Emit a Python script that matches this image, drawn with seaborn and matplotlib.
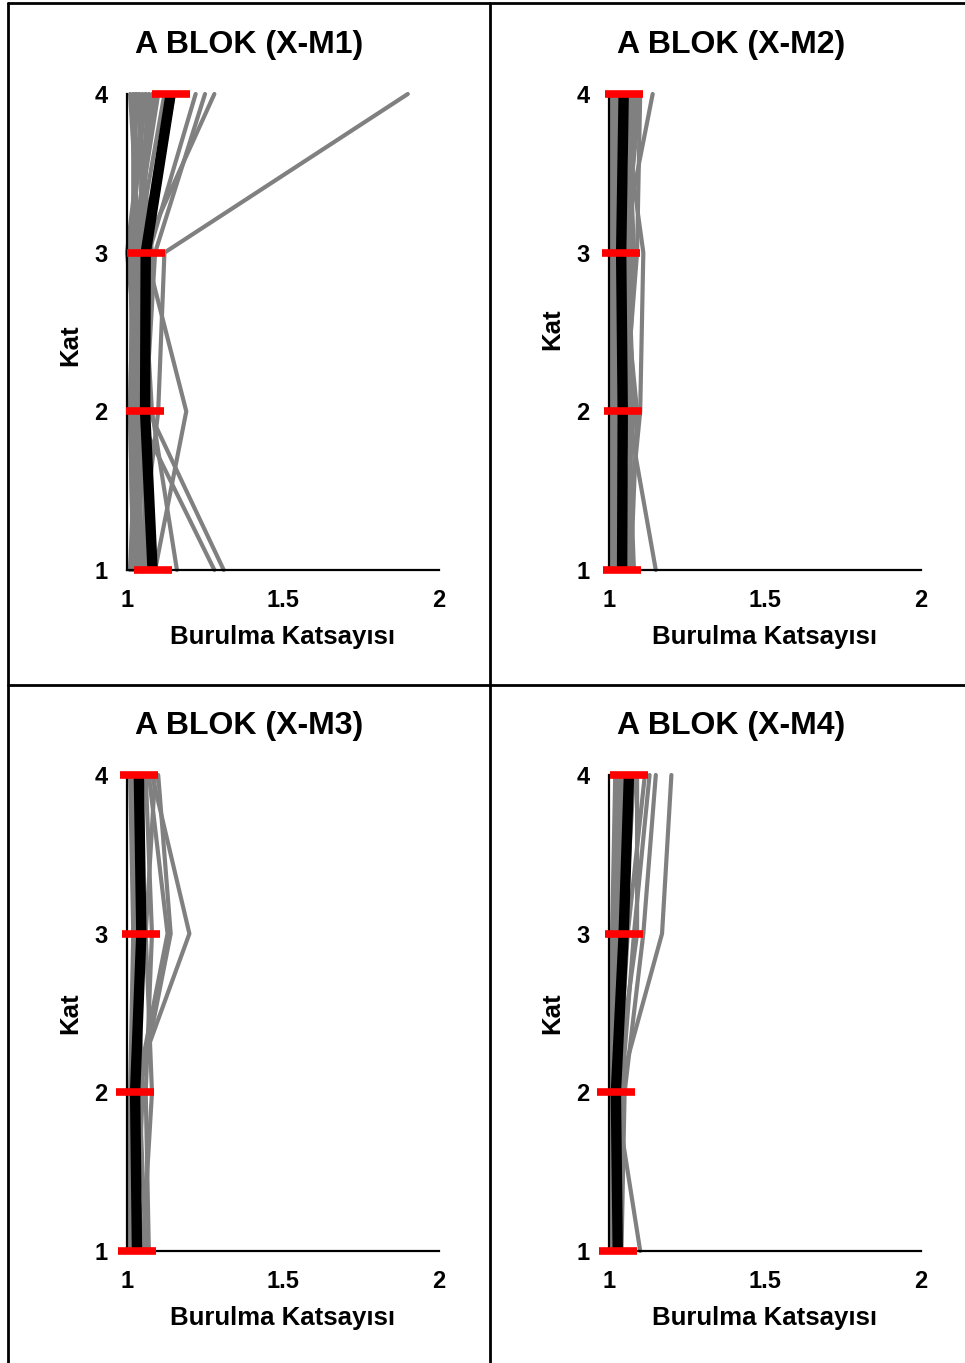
import matplotlib
matplotlib.use("Agg")
import matplotlib.pyplot as plt
import pandas as pd
import seaborn as sns
from matplotlib.lines import Line2D

# ---- data -------------------------------------------------------------
floors = [1, 2, 3, 4]
panel_titles = ["A BLOK (X-M1)", "A BLOK (X-M2)", "A BLOK (X-M3)", "A BLOK (X-M4)"]
x_ticks = [1, 1.5, 2]
x_tick_labels = ["1", "1.5", "2"]
y_ticks = [1, 2, 3, 4]
x_label = "Burulma Katsayısı"
y_label = "Kat"

# torsion coefficient per record, floors 1..4
m1_records = [
    [1.02, 1.01, 1.02, 1.03], [1.03, 1.02, 1.01, 1.05], [1.01, 1.03, 1.02, 1.02],
    [1.04, 1.02, 1.03, 1.07], [1.05, 1.03, 1.02, 1.10], [1.02, 1.04, 1.05, 1.04],
    [1.06, 1.05, 1.04, 1.08], [1.03, 1.01, 1.07, 1.22], [1.07, 1.06, 1.09, 1.25],
    [1.16, 1.08, 1.05, 1.28], [1.28, 1.03, 1.01, 1.06], [1.31, 1.07, 1.03, 1.02],
    [1.09, 1.19, 1.06, 1.04], [1.04, 1.10, 1.12, 1.90], [1.02, 1.02, 1.04, 1.01],
    [1.01, 1.05, 1.00, 1.06], [1.05, 1.03, 1.06, 1.15], [1.08, 1.04, 1.03, 1.12],
    [1.03, 1.06, 1.08, 1.03], [1.02, 1.01, 1.02, 1.09],
]
m2_records = [
    [1.01, 1.01, 1.01, 1.01], [1.02, 1.02, 1.02, 1.02], [1.01, 1.02, 1.01, 1.02],
    [1.03, 1.03, 1.02, 1.03], [1.06, 1.07, 1.06, 1.07], [1.07, 1.07, 1.07, 1.08],
    [1.08, 1.06, 1.08, 1.06], [1.15, 1.06, 1.05, 1.10], [1.05, 1.10, 1.11, 1.04],
    [1.07, 1.09, 1.04, 1.14], [1.02, 1.05, 1.09, 1.10], [1.04, 1.08, 1.06, 1.09],
    [1.01, 1.01, 1.02, 1.01], [1.03, 1.02, 1.03, 1.02],
]
m3_records = [
    [1.01, 1.01, 1.02, 1.01], [1.02, 1.02, 1.03, 1.02], [1.03, 1.02, 1.04, 1.03],
    [1.04, 1.03, 1.05, 1.04], [1.05, 1.015, 1.20, 1.08], [1.06, 1.04, 1.14, 1.10],
    [1.04, 1.03, 1.13, 1.07], [1.07, 1.06, 1.08, 1.06], [1.05, 1.08, 1.06, 1.09],
    [1.02, 1.03, 1.04, 1.05], [1.03, 1.05, 1.03, 1.02], [1.01, 1.02, 1.02, 1.03],
]
m4_records = [
    [1.01, 1.01, 1.01, 1.02], [1.02, 1.01, 1.02, 1.03], [1.01, 1.02, 1.03, 1.04],
    [1.03, 1.02, 1.04, 1.05], [1.02, 1.03, 1.17, 1.20], [1.04, 1.05, 1.11, 1.15],
    [1.03, 1.04, 1.08, 1.13], [1.10, 1.02, 1.09, 1.09], [1.02, 1.03, 1.06, 1.115],
    [1.01, 1.02, 1.03, 1.06], [1.02, 1.01, 1.05, 1.08],
]

# mean torsion coefficient per floor
m1_mean = [1.082, 1.058, 1.060, 1.140]
m2_mean = [1.042, 1.044, 1.039, 1.047]
m3_mean = [1.032, 1.026, 1.046, 1.038]
m4_mean = [1.028, 1.022, 1.047, 1.064]

all_records = [m1_records, m2_records, m3_records, m4_records]
all_means = [m1_mean, m2_mean, m3_mean, m4_mean]

# ---- style ------------------------------------------------------------
sns.set_theme(style="white")
plt.rcParams["font.family"] = ["Liberation Sans", "DejaVu Sans"]
plt.rcParams["font.weight"] = "bold"

W, H = 965, 1363
fig = plt.figure(figsize=(W / 100, H / 100), dpi=100)

# axes boxes in pixels: (left, top, right, bottom)
boxes = [(127, 94, 439, 570), (609, 94, 921, 570),
         (127, 775, 439, 1251), (609, 775, 921, 1251)]
title_pos = [(249, 53), (731, 53), (249, 734), (731, 734)]
ylabel_y = [0.473, 0.505, 0.5, 0.5]

for i, (recs, mean) in enumerate(zip(all_records, all_means)):
    l, t, r, b = boxes[i]
    ax = fig.add_axes([l / W, 1 - b / H, (r - l) / W, (b - t) / H])

    rows = []
    for k, rec in enumerate(recs):
        for fl, v in zip(floors, rec):
            rows.append({"record": k, "floor": fl, "value": v})
    df = pd.DataFrame(rows)

    sns.lineplot(data=df, x="value", y="floor", units="record", estimator=None,
                 orient="y", color="#808080", linewidth=3.0, ax=ax,
                 legend=False, zorder=2)
    sns.lineplot(x=mean, y=floors, orient="y", color="black", linewidth=7.5,
                 ax=ax, legend=False, zorder=3, solid_capstyle="butt")
    ax.plot(mean, floors, linestyle="none", marker="_", markersize=27.5,
            markeredgewidth=5.5, color="#FF0000", zorder=4, clip_on=False)
    for ln in ax.lines:
        ln.set_clip_on(False)

    ax.set_xlim(1, 2)
    ax.set_ylim(1, 4)
    ax.set_xticks(x_ticks, labels=x_tick_labels)
    ax.set_yticks(y_ticks, labels=[str(v) for v in y_ticks])
    ax.tick_params(axis="x", direction="in", length=5.5, width=1.5,
                   pad=14, labelsize=17, colors="black")
    ax.tick_params(axis="y", direction="out", length=5, width=1.5,
                   pad=9, labelsize=17, colors="black")
    for lab in ax.get_xticklabels() + ax.get_yticklabels():
        lab.set_fontweight("bold")

    for side in ("top", "right"):
        ax.spines[side].set_visible(False)
    for side in ("left", "bottom"):
        ax.spines[side].set_color("black")
        ax.spines[side].set_linewidth(1.6)
    ax.grid(False)
    ax.set_facecolor("none")

    ax.set_xlabel(x_label, fontsize=18.5, fontweight="bold", color="black")
    ax.xaxis.set_label_coords(0.5, -0.115)
    ax.set_ylabel(y_label, fontsize=18.5, fontweight="bold", color="black")
    ax.yaxis.set_label_coords(-0.145, ylabel_y[i])

    tx, ty = title_pos[i]
    fig.text(tx / W, 1 - ty / H, panel_titles[i], ha="center", va="baseline",
             fontsize=23, fontweight="bold", color="black")

# cell borders around the four charts
border = dict(color="black", linewidth=2.0, transform=fig.transFigure)
fig.add_artist(Line2D([8 / W, 1], [1 - 3 / H, 1 - 3 / H], **border))
fig.add_artist(Line2D([8 / W, 8 / W], [0, 1 - 3 / H], **border))
fig.add_artist(Line2D([490 / W, 490 / W], [0, 1 - 3 / H], **border))
fig.add_artist(Line2D([8 / W, 1], [1 - 685 / H, 1 - 685 / H], **border))

fig.savefig("out.png", dpi=100, facecolor="white")
